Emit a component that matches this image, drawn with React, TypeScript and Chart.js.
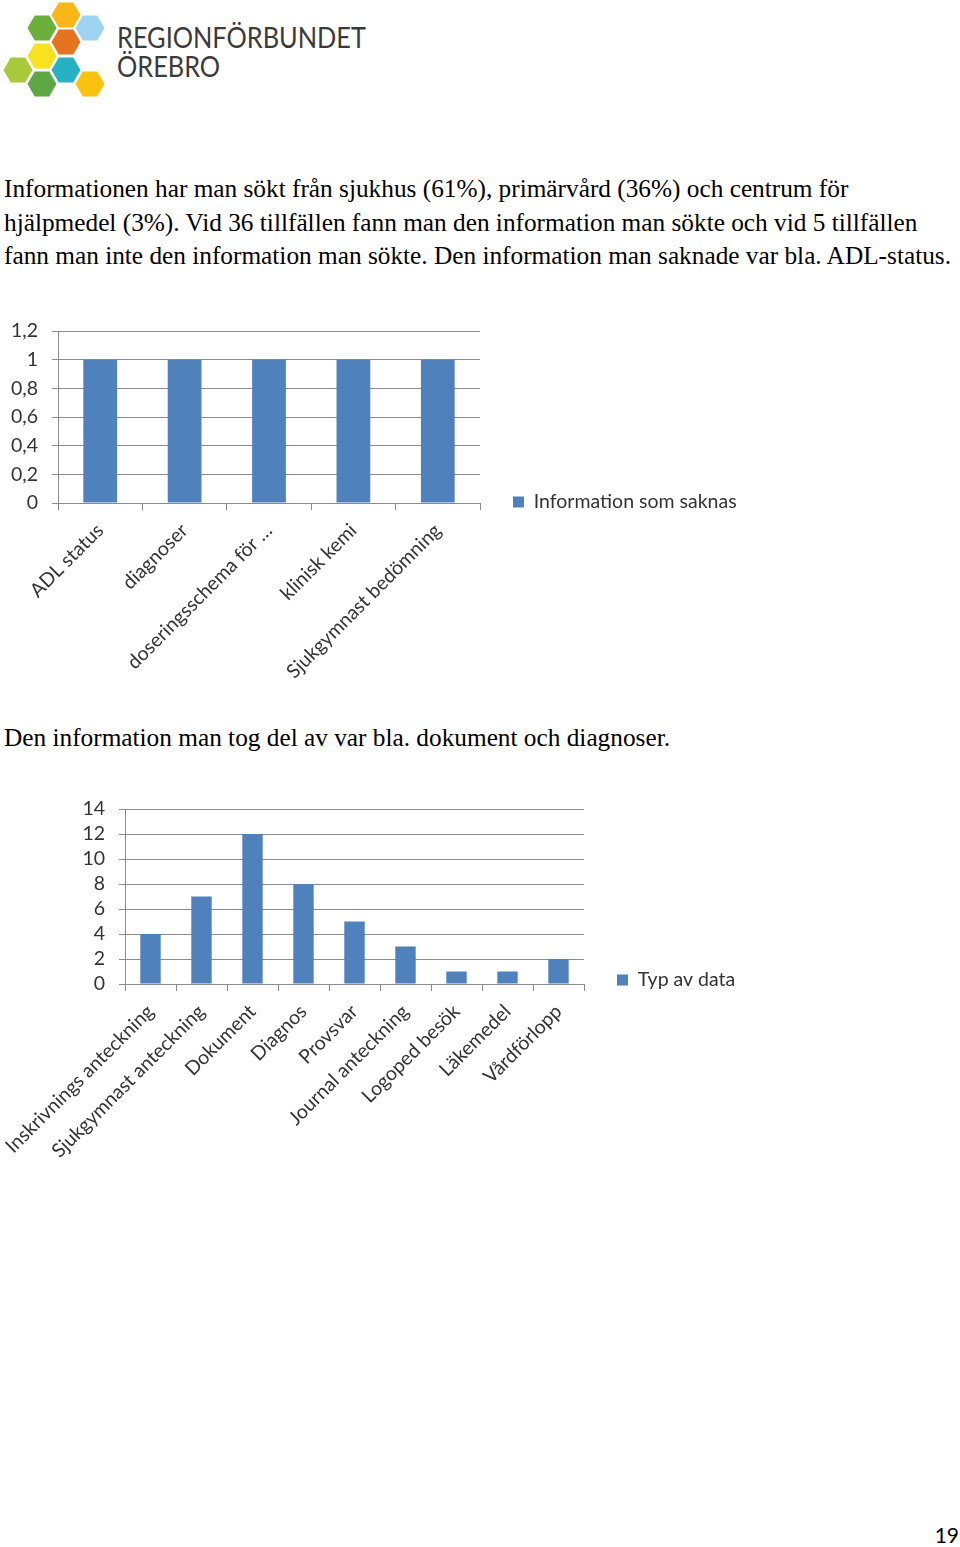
import React, { useEffect, useRef } from "react";
import { Chart, registerables } from "chart.js";

Chart.register(...registerables);

// ---------- data ----------
const missingCategories = [
  "ADL status",
  "diagnoser",
  "doseringsschema för …",
  "klinisk kemi",
  "Sjukgymnast bedömning",
];
const missingValues = [1, 1, 1, 1, 1];
const missingSeriesName = "Information som saknas";
const missingYMax = 1.2;
const missingYStep = 0.2;

const usedCategories = [
  "Inskrivnings anteckning",
  "Sjukgymnast anteckning",
  "Dokument",
  "Diagnos",
  "Provsvar",
  "Journal anteckning",
  "Logoped besök",
  "Läkemedel",
  "Vårdförlopp",
];
const usedValues = [4, 7, 12, 8, 5, 3, 1, 1, 2];
const usedSeriesName = "Typ av data";
const usedYMax = 14;
const usedYStep = 2;

const paragraph1 = [
  "Informationen har man sökt från sjukhus (61%), primärvård (36%) och centrum för",
  "hjälpmedel (3%). Vid 36 tillfällen fann man den information man sökte och vid 5 tillfällen",
  "fann man inte den information man sökte. Den information man saknade var bla. ADL-status.",
];
const paragraph2 = "Den information man tog del av var bla. dokument och diagnoser.";
const pageNumber = "19";

// ---------- styles ----------
const BAR = "#4F81BD";
const GRID = "#8C8C8C";
const TEXT = "#333333";
const CHART_FONT = "Lato";
const CHART_FONT_SIZE = 19.5;

type BarProps = {
  labels: string[];
  values: number[];
  name: string;
  yMax: number;
  yStep: number;
  left: number;
  top: number;
  width: number;
  height: number;
  yWidth: number;
  xHeight: number;
  plotTop: number;
  plotRight: number;
};

function BarChart(p: BarProps) {
  const ref = useRef<HTMLCanvasElement | null>(null);
  useEffect(() => {
    if (!ref.current) return;
    const font = { family: CHART_FONT, size: CHART_FONT_SIZE };
    const chart = new Chart(ref.current, {
      type: "bar",
      data: {
        labels: p.labels,
        datasets: [
          {
            label: p.name,
            data: p.values,
            backgroundColor: BAR,
            borderWidth: 0,
            barPercentage: 0.4,
            categoryPercentage: 1,
          },
        ],
      },
      options: {
        animation: false,
        responsive: false,
        maintainAspectRatio: false,
        layout: { padding: { top: 0, right: 0, left: 0, bottom: 0 } },
        plugins: {
          legend: {
            position: "right",
            maxWidth: 400,
            labels: {
              boxWidth: 11,
              boxHeight: 11,
              padding: 33,
              color: TEXT,
              font,
            },
          },
          tooltip: { enabled: false },
        },
        scales: {
          x: {
            offset: true,
            grid: {
              display: true,
              offset: true,
              drawOnChartArea: false,
              drawTicks: true,
              tickLength: 7,
              color: GRID,
            },
            border: { color: GRID },
            ticks: {
              maxRotation: 45,
              minRotation: 45,
              autoSkip: false,
              padding: 9,
              color: TEXT,
              font,
            },
            afterFit: (s: any) => {
              s.height = p.xHeight;
              s.paddingLeft = 0;
              s.paddingRight = 0;
            },
          },
          y: {
            min: 0,
            max: p.yMax,
            grid: { color: GRID, tickLength: 6, drawTicks: true },
            border: { color: GRID },
            ticks: {
              stepSize: p.yStep,
              autoSkip: false,
              padding: 14,
              color: TEXT,
              font,
              callback: (v: any) => String(Math.round(Number(v) * 10) / 10).replace(".", ","),
            },
            afterFit: (s: any) => {
              s.width = p.yWidth;
              s.paddingTop = p.plotTop;
              s.paddingBottom = 0;
            },
          },
        },
      },
    });
    const diff = chart.chartArea.right - p.plotRight;
    if (Math.abs(diff) > 0.5) {
      (chart.options.layout as any).padding.right = Math.max(0, diff);
      chart.update();
    }
    return () => chart.destroy();
  }, []);
  return (
    <canvas
      ref={ref}
      width={p.width}
      height={p.height}
      style={{ position: "absolute", left: p.left, top: p.top, width: p.width, height: p.height }}
    />
  );
}

function hexPoints(cx: number, cy: number, r: number) {
  const pts: string[] = [];
  for (let i = 0; i < 6; i++) {
    const a = (Math.PI / 3) * i;
    pts.push(`${(cx + r * Math.cos(a)).toFixed(2)},${(cy + r * Math.sin(a)).toFixed(2)}`);
  }
  return pts.join(" ");
}

const logoHexes: [number, number, string][] = [
  [66, 15, "#F7B719"],
  [90, 28, "#9ED3F1"],
  [42, 28, "#6DAF3D"],
  [66, 42, "#E57320"],
  [42, 56, "#F8E11E"],
  [18, 70, "#A8C939"],
  [66, 70, "#26B1C4"],
  [42, 84, "#5CA845"],
  [90, 84, "#F9C20F"],
];

export default function App() {
  const serif = "'Liberation Serif', 'Times New Roman', serif";
  return (
    <div
      style={{
        position: "absolute",
        left: 0,
        top: 0,
        width: 960,
        height: 1547,
        overflow: "hidden",
        background: "#fff",
      }}
    >
      <svg width={110} height={100} style={{ position: "absolute", left: 0, top: 0 }}>
        {logoHexes.map(([x, y, c], i) => (
          <polygon key={i} points={hexPoints(x, y, 14.5)} fill={c} />
        ))}
      </svg>
      <div
        style={{
          position: "absolute",
          left: 117,
          top: 23,
          fontFamily: "Lato, sans-serif",
          fontSize: 28,
          lineHeight: "29px",
          color: "#3a3a3a",
          whiteSpace: "nowrap",
          transform: "scaleX(0.905)",
          transformOrigin: "0 0",
        }}
      >
        REGIONFÖRBUNDET
        <br />
        ÖREBRO
      </div>

      <div
        style={{
          position: "absolute",
          left: 4,
          top: 172.3,
          fontFamily: serif,
          fontSize: 25.3,
          lineHeight: "33.3px",
          color: "#000",
          whiteSpace: "nowrap",
        }}
      >
        {paragraph1.map((l, i) => (
          <div key={i}>{l}</div>
        ))}
      </div>

      <BarChart
        labels={missingCategories}
        values={missingValues}
        name={missingSeriesName}
        yMax={missingYMax}
        yStep={missingYStep}
        left={0}
        top={317}
        width={760}
        height={370}
        yWidth={58}
        xHeight={184}
        plotTop={14}
        plotRight={480}
      />

      <div
        style={{
          position: "absolute",
          left: 4,
          top: 721,
          fontFamily: serif,
          fontSize: 25.3,
          lineHeight: "33.3px",
          color: "#000",
          whiteSpace: "nowrap",
        }}
      >
        {paragraph2}
      </div>

      <BarChart
        labels={usedCategories}
        values={usedValues}
        name={usedSeriesName}
        yMax={usedYMax}
        yStep={usedYStep}
        left={0}
        top={795}
        width={800}
        height={370}
        yWidth={125}
        xHeight={181}
        plotTop={14}
        plotRight={584}
      />

      <div
        style={{
          position: "absolute",
          right: 1,
          top: 1522,
          fontFamily: "Lato, sans-serif",
          fontSize: 21,
          color: "#000",
        }}
      >
        {pageNumber}
      </div>
    </div>
  );
}
